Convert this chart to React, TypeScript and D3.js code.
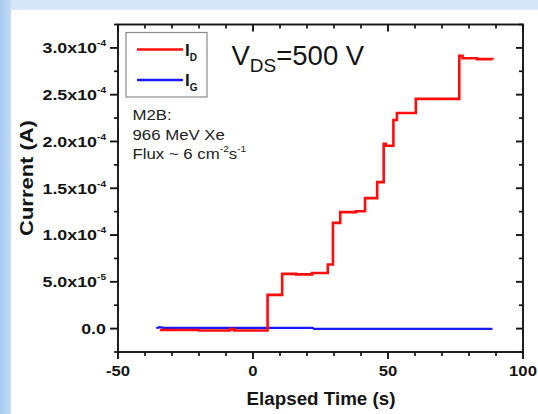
import React from "react";
import * as d3 from "d3";

const W = 538;
const H = 414;

// Drain current I_D (A) vs elapsed time (s)
const redTime = [-34.5, -20, -8.5, -7, 5.4, 10.8, 16, 21.9, 27.7, 29.6, 32.3, 38.1, 41.5, 46, 48.4, 49.2, 52, 53.3, 60.3, 76.4, 77.6, 83, 88.7];
const redCurrent = [-1.5e-6, -2e-6, -0.5e-6, -2e-6, 3.6e-5, 5.85e-5, 5.8e-5, 5.95e-5, 6.85e-5, 1.13e-4, 1.245e-4, 1.255e-4, 1.395e-4, 1.565e-4, 1.975e-4, 1.955e-4, 2.23e-4, 2.305e-4, 2.455e-4, 2.915e-4, 2.89e-4, 2.88e-4, 2.875e-4];

// Gate current I_G (A)
const blueTime = [-35.8, -34.5, -33, 22, 22.6, 88.7];
const blueCurrent = [0.5e-6, 1.5e-6, 0.8e-6, 0.8e-6, -0.3e-6, -0.3e-6];

const xMajorTicks = [-50, 0, 50, 100];
const xMinorTicks = [-40, -30, -20, -10, 10, 20, 30, 40, 60, 70, 80, 90];
const yTickValues = [0, 5e-5, 1e-4, 1.5e-4, 2e-4, 2.5e-4, 3e-4];
const yTickMantissa = ["0.0", "5.0x10", "1.0x10", "1.5x10", "2.0x10", "2.5x10", "3.0x10"];
const yTickExponent = ["", "-5", "-4", "-4", "-4", "-4", "-4"];
const yMinorTicks = [-2.5e-5, 2.5e-5, 7.5e-5, 1.25e-4, 1.75e-4, 2.25e-4, 2.75e-4, 3.25e-4];

const annotationLines = ["M2B:", "966 MeV Xe"];

export default function App() {
  const left = 118, right = 523, top = 24.5, bottom = 352;
  const x = d3.scaleLinear().domain([-50, 100]).range([left, right]);
  const y = d3.scaleLinear().domain([-2.5e-5, 3.25e-4]).range([bottom, top]);

  const redPts = redTime.map((t, i) => [t, redCurrent[i]] as [number, number]);
  const bluePts = blueTime.map((t, i) => [t, blueCurrent[i]] as [number, number]);
  const redLine = d3.line<[number, number]>().x(d => x(d[0])).y(d => y(d[1])).curve(d3.curveStepAfter);
  const blueLine = d3.line<[number, number]>().x(d => x(d[0])).y(d => y(d[1]));

  const font = "'Liberation Sans', Arial, Helvetica, sans-serif";
  const major = 8, minor = 4;
  const ink = "#151515";

  return (
    <svg width={W} height={H} style={{ position: "fixed", left: 0, top: 0, display: "block" }} fontFamily={font}>
      <defs>
        <linearGradient id="leftStrip" x1="0" x2="1" y1="0" y2="0">
          <stop offset="0" stopColor="#a6c9ef" />
          <stop offset="1" stopColor="#c4dbf4" />
        </linearGradient>
      </defs>
      <rect x={0} y={0} width={W} height={H} fill="#ffffff" />
      <rect x={0} y={0} width={W} height={10} fill="#d6e7f9" />
      <rect x={0} y={0} width={11} height={H} fill="url(#leftStrip)" />

      {/* data */}
      <path d={blueLine(bluePts) ?? ""} fill="none" stroke="#1a1aff" strokeWidth={2.2} />
      <path d={redLine(redPts) ?? ""} fill="none" stroke="#ff0d0d" strokeWidth={2.6} />

      {/* frame */}
      <rect x={left} y={top} width={right - left} height={bottom - top} fill="none" stroke={ink} strokeWidth={1.9} />

      {/* x ticks bottom (outward) & top (inward) */}
      {xMajorTicks.map(t => (
        <g key={"xm" + t}>
          <line x1={x(t)} x2={x(t)} y1={bottom} y2={bottom + major - 1} stroke={ink} strokeWidth={1.9} />
          <line x1={x(t)} x2={x(t)} y1={top} y2={top + major - 1} stroke={ink} strokeWidth={1.9} />
          <text transform={`translate(${x(t)}, 375.5) scale(1.15, 1)`} textAnchor="middle" fontWeight="bold" fontSize={14.5} fill={ink}>{t}</text>
        </g>
      ))}
      {xMinorTicks.map(t => (
        <g key={"xn" + t}>
          <line x1={x(t)} x2={x(t)} y1={bottom} y2={bottom + minor} stroke={ink} strokeWidth={1.7} />
          <line x1={x(t)} x2={x(t)} y1={top} y2={top + minor} stroke={ink} strokeWidth={1.7} />
        </g>
      ))}

      {/* y ticks left (outward) & right (inward) */}
      {yTickValues.map((v, i) => (
        <g key={"ym" + i}>
          <line x1={left - major} x2={left} y1={y(v)} y2={y(v)} stroke={ink} strokeWidth={1.9} />
          <line x1={right - major + 1} x2={right} y1={y(v)} y2={y(v)} stroke={ink} strokeWidth={1.9} />
          <text transform={`translate(${left - 12}, ${y(v) + 5.3}) scale(1.19, 1)`} textAnchor="end" fontWeight="bold" fontSize={15} fill={ink}>
            {yTickMantissa[i]}
            {yTickExponent[i] !== "" && (
              <tspan fontSize={8.5} dy={-7}>{yTickExponent[i]}</tspan>
            )}
          </text>
        </g>
      ))}
      {yMinorTicks.map((v, i) => (
        <g key={"yn" + i}>
          <line x1={left - minor} x2={left} y1={y(v)} y2={y(v)} stroke={ink} strokeWidth={1.7} />
          <line x1={right - minor} x2={right} y1={y(v)} y2={y(v)} stroke={ink} strokeWidth={1.7} />
        </g>
      ))}

      {/* axis titles */}
      <text x={(left + right) / 2 + 0.5} y={404.5} textAnchor="middle" fontWeight="bold" fontSize={18.8} fill={ink}>Elapsed Time (s)</text>
      <text transform={`translate(33, 178) rotate(-90) scale(1.22, 1)`} textAnchor="middle" fontWeight="bold" fontSize={18} fill={ink}>Current (A)</text>

      {/* legend */}
      <rect x={126} y={32.5} width={81} height={64.5} fill="#fff" stroke="#8a8a8a" strokeWidth={1.2} />
      <line x1={137} x2={183} y1={49.5} y2={49.5} stroke="#ff0d0d" strokeWidth={2.5} />
      <line x1={137} x2={183} y1={80} y2={80} stroke="#1a1aff" strokeWidth={2.5} />
      <text x={185} y={55.5} fontWeight="bold" fontSize={17} fill={ink}>I<tspan fontSize={10} dy={5}>D</tspan></text>
      <text x={185} y={86} fontWeight="bold" fontSize={17} fill={ink}>I<tspan fontSize={10} dy={5}>G</tspan></text>

      {/* V_DS annotation */}
      <text x={231.5} y={65} fontSize={27.5} fill={ink}>V<tspan fontSize={19} dy={6.5}>DS</tspan><tspan dy={-6.5}>=500 V</tspan></text>

      {/* sample annotation */}
      {annotationLines.map((s, i) => (
        <text key={s} transform={`translate(132.5, ${120 + i * 19.7}) scale(1.2, 1)`} fontSize={14} fill="#222">{s}</text>
      ))}
      <text transform="translate(132.5, 159.4) scale(1.2, 1)" fontSize={14} fill="#222">
        Flux ~ 6 cm<tspan fontSize={8.5} dy={-7}>-2</tspan><tspan dy={7}>s</tspan><tspan fontSize={8.5} dy={-7}>-1</tspan>
      </text>
    </svg>
  );
}
